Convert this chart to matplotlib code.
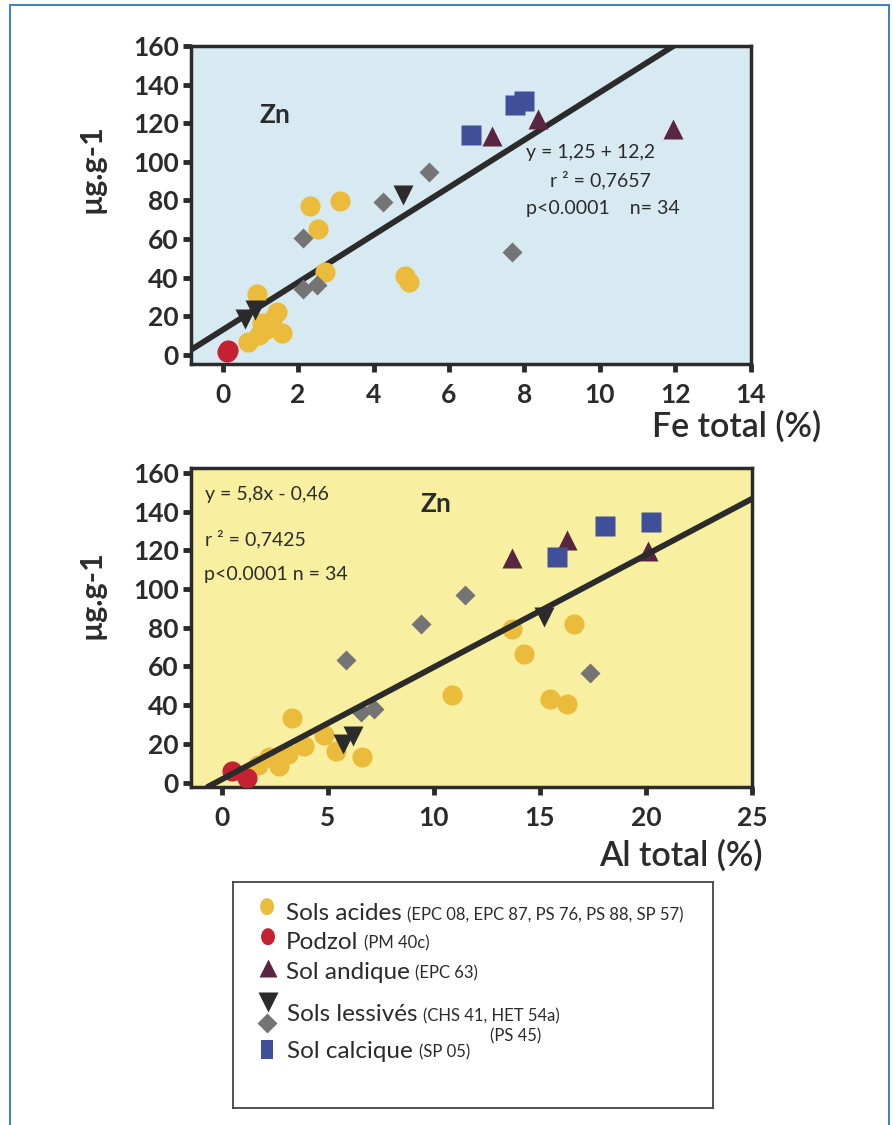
import matplotlib
matplotlib.use("Agg")
from matplotlib import pyplot as plt
from matplotlib.patches import Rectangle, Ellipse
import numpy as np

plt.rcParams['font.family'] = ['Lato', 'DejaVu Sans']

# Données : Zn (µg.g-1) en fonction de Fe total (%)
fe_acides_x = [2.32, 3.11, 2.53, 2.72, 4.82, 4.95, 0.92, 1.44, 1.04, 1.20, 0.95, 1.57, 0.68, 1.30, 1.10]
fe_acides_y = [77, 79.5, 65, 43, 41, 38, 31.5, 22.4, 16.4, 14, 10.4, 11.2, 6.9, 18, 13]
fe_podzol_x = [0.10, 0.14]
fe_podzol_y = [1.7, 2.4]
fe_andique_x = [7.13, 8.35, 11.95]
fe_andique_y = [113.5, 122, 117]
fe_less_tri_x = [4.79, 0.60, 0.85]
fe_less_tri_y = [82.6, 18.5, 23.5]
fe_less_diam_x = [2.13, 2.14, 2.49, 4.26, 5.47, 7.68]
fe_less_diam_y = [60.5, 34, 36.3, 79.4, 94.5, 53.5]
fe_calc_x = [6.58, 7.74, 7.98]
fe_calc_y = [114, 129.5, 131.6]
fe_fit = (12.3, 13.0)   # pente, ordonnée (droite tracée)

# Données : Zn (µg.g-1) en fonction de Al total (%)
al_acides_x = [13.7, 14.24, 16.6, 10.85, 15.5, 16.28, 3.3, 4.83, 3.9, 3.15, 2.25, 1.7, 2.72, 5.4, 6.6]
al_acides_y = [79.2, 66.3, 81.8, 45.1, 43, 40.8, 33.4, 24.8, 18.7, 14.8, 13.1, 9.3, 8.6, 16.2, 13.4]
al_podzol_x = [0.5, 1.2]
al_podzol_y = [5.8, 2.2]
al_andique_x = [13.7, 16.3, 20.1]
al_andique_y = [115.9, 125.4, 119.7]
al_less_tri_x = [15.2, 5.72, 6.2]
al_less_tri_y = [85.6, 19.9, 24.2]
al_less_diam_x = [11.47, 9.4, 5.85, 6.59, 7.17, 17.38]
al_less_diam_y = [96.9, 81.8, 63.2, 36.3, 38, 56.6]
al_calc_x = [15.8, 18.08, 20.25]
al_calc_y = [116.4, 132.4, 134.4]
al_fit = (5.8, 1.6)

# Couleurs
c_acide = "#ebbc3c"
c_podzol = "#c42233"
c_andique = "#5a2540"
c_less = "#2b2b2b"
c_diam = "#747474"
c_calc = "#3f4f99"
c_dark = "#2b2b2b"

fig = plt.figure(figsize=(8.93, 11.25), dpi=100)

# Cadre extérieur
fig.patches.append(Rectangle((10/893, -0.01), 879/893, 1.01 - 5/1125, transform=fig.transFigure,
                             fill=False, edgecolor="#3a80c0", linewidth=1.4))


def style_axes(ax, bg):
    ax.set_facecolor(bg)
    for s in ax.spines.values():
        s.set_linewidth(2.5)
        s.set_color(c_dark)
    ax.tick_params(direction="out", length=5.5, width=3.5, color=c_dark,
                   labelsize=19, labelcolor=c_dark)
    ax.tick_params(axis="x", pad=8)
    ax.tick_params(axis="y", pad=3)
    for lab in ax.get_xticklabels() + ax.get_yticklabels():
        lab.set_fontweight("bold")


def draw_points(ax, acx, acy, pox, poy, anx, any_, ltx, lty, ldx, ldy, cax, cay):
    ax.plot(acx, acy, "o", ms=14.5, color=c_acide, mec="none", zorder=3)
    ax.plot(pox, poy, "o", ms=14.5, color=c_podzol, mec="none", zorder=3)
    ax.plot(ldx, ldy, "D", ms=10.5, color=c_diam, mec="none", zorder=3)
    ax.plot(ltx, lty, "v", ms=15, color=c_less, mec="none", zorder=3)
    ax.plot(anx, any_, "^", ms=15, color=c_andique, mec="none", zorder=3)
    ax.plot(cax, cay, "s", ms=14, color=c_calc, mec="none", zorder=3)


# ---------- Graphique Fe ----------
ax1 = fig.add_axes([190.7/893, 1 - 364/1125, 560/893, 318/1125])
ax1.set_xlim(-0.85, 14)
ax1.set_ylim(-4.7, 160)
ax1.set_xticks(np.arange(0, 15, 2))
ax1.set_yticks(np.arange(0, 161, 20))
style_axes(ax1, "#d8eaf1")
xs = np.array([-0.85, (160 - fe_fit[1]) / fe_fit[0]])
ax1.plot(xs, fe_fit[0] * xs + fe_fit[1], color=c_dark, lw=4.2, solid_capstyle="round", zorder=2)
draw_points(ax1, fe_acides_x, fe_acides_y, fe_podzol_x, fe_podzol_y, fe_andique_x, fe_andique_y,
            fe_less_tri_x, fe_less_tri_y, fe_less_diam_x, fe_less_diam_y, fe_calc_x, fe_calc_y)
ax1.text(1.39, 124.4, "Zn", fontsize=19, fontweight="bold", color=c_dark, ha="center", va="center")
ax1.text(8.05, 104.6, "y = 1,25 + 12,2", fontsize=14, color=c_dark, va="center")
ax1.text(8.68, 90.7, "r ² = 0,7657", fontsize=14, color=c_dark, va="center")
ax1.text(8.05, 76, "p<0.0001    n= 34", fontsize=14, color=c_dark, va="center")
fig.text(821/893, 1 - 426/1125, "Fe total (%)", fontsize=24.5, fontweight="semibold",
         color=c_dark, ha="right", va="center")
fig.text(91/893, 1 - 169/1125, "µg.g-1", fontsize=22, fontweight="bold", color=c_dark,
         rotation=90, ha="center", va="center")

# ---------- Graphique Al ----------
ax2 = fig.add_axes([190.7/893, 1 - 787/1125, 561.3/893, 319/1125])
ax2.set_xlim(-1.46, 25)
ax2.set_ylim(-2.3, 162.5)
ax2.set_xticks(np.arange(0, 26, 5))
ax2.set_yticks(np.arange(0, 161, 20))
style_axes(ax2, "#f8f0a0")
draw_points(ax2, al_acides_x, al_acides_y, al_podzol_x, al_podzol_y, al_andique_x, al_andique_y,
            al_less_tri_x, al_less_tri_y, al_less_diam_x, al_less_diam_y, al_calc_x, al_calc_y)
xs = np.array([-0.65, 25])
ax2.plot(xs, al_fit[0] * xs + al_fit[1], color=c_dark, lw=4.2, solid_capstyle="round", zorder=4)
ax2.text(10.1, 143.7, "Zn", fontsize=19, fontweight="bold", color=c_dark, ha="center", va="center")
ax2.text(-0.78, 149, "y = 5,8x - 0,46", fontsize=14, color=c_dark, va="center")
ax2.text(-0.78, 126, "r ² = 0,7425", fontsize=14, color=c_dark, va="center")
ax2.text(-0.85, 107.6, "p<0.0001 n = 34", fontsize=14, color=c_dark, va="center")
fig.text(763/893, 1 - 855/1125, "Al total (%)", fontsize=24.5, fontweight="semibold",
         color=c_dark, ha="right", va="center")
fig.text(91/893, 1 - 595/1125, "µg.g-1", fontsize=22, fontweight="bold", color=c_dark,
         rotation=90, ha="center", va="center")

# ---------- Légende ----------
axl = fig.add_axes([233/893, 1 - 1108/1125, 480/893, 226/1125])
axl.set_xlim(0, 1)
axl.set_ylim(0, 1)
axl.set_xticks([])
axl.set_yticks([])
for s in axl.spines.values():
    s.set_linewidth(1.3)
    s.set_color("#444444")

axl.add_patch(Ellipse((0.071, 0.891), 0.029, 0.075, color=c_acide, lw=0))
axl.add_patch(Ellipse((0.073, 0.758), 0.029, 0.075, color=c_podzol, lw=0))
axl.plot([0.073], [0.618], "^", ms=13, color=c_andique, mec="none")
axl.plot([0.073], [0.470], "v", ms=15, color=c_less, mec="none")
axl.plot([0.071], [0.375], "D", ms=10, color=c_diam, mec="none")
axl.add_patch(Rectangle((0.071 - 0.0125, 0.257 - 0.042), 0.025, 0.084, color=c_calc, lw=0))

legend_rows = [
    (0.110, 0.830, "Sols acides", "(EPC 08, EPC 87, PS 76, PS 88, SP 57)"),
    (0.110, 0.705, "Podzol", "(PM 40c)"),
    (0.110, 0.572, "Sol andique", "(EPC 63)"),
    (0.113, 0.385, "Sols lessivés", "(CHS 41, HET 54a)"),
    (0.113, 0.222, "Sol calcique", "(SP 05)"),
]
for x, y, big, small in legend_rows:
    t = axl.text(x, y, big, fontsize=17.5, color=c_dark, va="baseline")
    axl.annotate(small, xy=(1, y), xycoords=(t, axl.transAxes), xytext=(4, 0),
                 textcoords="offset points", fontsize=12, color=c_dark, va="baseline")
axl.text(0.535, 0.293, "(PS 45)", fontsize=12, color=c_dark, va="baseline")

fig.savefig("out.png", dpi=100)
